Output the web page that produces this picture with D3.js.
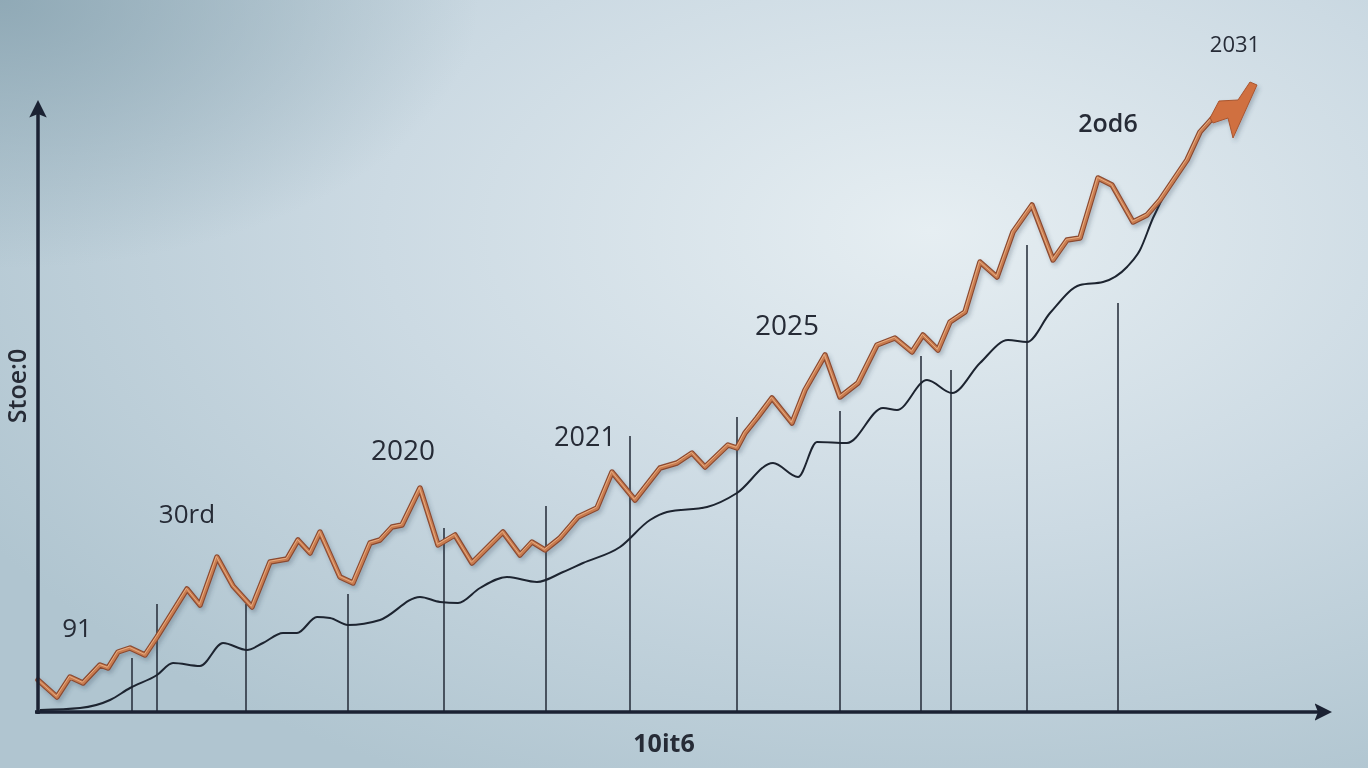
<!DOCTYPE html>
<html>
<head>
<meta charset="utf-8">
<script src="https://cdn.jsdelivr.net/npm/d3@7"></script>
<style>
  body { margin: 0; overflow: hidden; }
  text { font-family: "Open Sans", "Noto Sans", sans-serif; fill: #262b36; }
</style>
</head>
<body>
<div id="chart"></div>
<script>
// series values (x = time units, y = value units)
var orangeX = [0,19,32,45,62,70,80,92,107,119,149,162,179,195,214,232,249,260,272,282,302,315,332,342,354,364,382,400,417,434,465,482,494,507,522,540,559,574,597,622,639,654,667,690,699,707,719,734,754,767,787,802,820,839,857,874,885,900,912,927,942,959,975,994,1015,1029,1042,1060,1074,1095,1109,1122,1149,1162,1180];
var orangeY = [32,15,35,29,47,44,60,64,57,75,123,107,155,126,105,150,153,172,159,180,135,129,169,172,185,187,224,167,177,149,180,157,170,162,174,195,204,240,212,244,249,259,245,267,264,279,294,314,289,322,357,315,329,367,374,360,377,362,390,400,450,435,480,507,452,472,474,534,527,490,497,512,552,580,600];

var blackX = [2,42,72,92,119,135,162,185,209,225,245,259,279,292,310,342,382,402,420,442,469,499,525,545,582,612,629,669,699,735,760,779,809,845,859,889,914,942,970,989,1012,1042,1065,1089,1102,1115,1135,1149,1162];
var blackY = [2,4,12,24,37,49,46,69,62,69,79,79,95,94,87,92,115,110,109,124,135,130,140,149,165,192,200,205,219,249,235,270,269,304,302,332,319,349,372,370,399,427,430,445,462,494,532,552,580];

// vertical drop lines
var stemX = [94,119,208,310,406,508,592,699,802,883,913,989,1080];
var stemY = [54,108,108,118,184,206,276,295,301,356,342,467,409];

// annotation labels
var labels = ["91","30rd","2020","2021","2025","2od6","2031"];
var labelX = [39,149,365,547,749,1070,1197];
var labelY = [75,189,252,266,377,580,660];

var xTitle = "10it6", yTitle = "Stoe:0";

var W = 1368, H = 768;

var svg = d3.select("#chart").append("svg")
    .attr("width", W)
    .attr("height", H);

var defs = svg.append("defs");

var bg = defs.append("radialGradient").attr("id", "bg")
    .attr("cx", "0.68").attr("cy", "0.3").attr("r", "0.8");
bg.append("stop").attr("offset", "0").attr("stop-color", "#e6eef2");
bg.append("stop").attr("offset", "0.5").attr("stop-color", "#ccdae3");
bg.append("stop").attr("offset", "1").attr("stop-color", "#b0c5d0");

var corner = defs.append("radialGradient").attr("id", "corner")
    .attr("cx", "0").attr("cy", "0").attr("r", "0.35");
corner.append("stop").attr("offset", "0").attr("stop-color", "#8ca6b3").attr("stop-opacity", 0.9);
corner.append("stop").attr("offset", "1").attr("stop-color", "#8ca6b3").attr("stop-opacity", 0);

var shadow = defs.append("filter").attr("id", "shadow")
    .attr("x", "-5%").attr("y", "-5%").attr("width", "110%").attr("height", "115%");
shadow.append("feDropShadow")
    .attr("dx", 2).attr("dy", 3).attr("stdDeviation", 2)
    .attr("flood-color", "#3a4a5a").attr("flood-opacity", 0.3);

defs.append("marker").attr("id", "arrow")
    .attr("viewBox", "0 0 10 10").attr("refX", 2).attr("refY", 5)
    .attr("markerWidth", 5).attr("markerHeight", 5)
    .attr("orient", "auto")
  .append("path").attr("d", "M0,0L10,5L0,10L2,5Z").attr("fill", "#1b2233");

svg.append("rect").attr("width", W).attr("height", H).attr("fill", "url(#bg)");
svg.append("rect").attr("width", W).attr("height", H).attr("fill", "url(#corner)");

// scales
var x = d3.scaleLinear().domain([0, 1284]).range([38, 1322]);
var y = d3.scaleLinear().domain([0, 604]).range([712, 108]);

// drop lines
svg.selectAll(".stem")
  .data(stemX)
  .enter()
  .append("line")
    .attr("x1", function(d) { return x(d); })
    .attr("x2", function(d) { return x(d); })
    .attr("y1", y(0))
    .attr("y2", function(d, i) { return y(stemY[i]); })
    .attr("stroke", "#2c3440")
    .attr("stroke-width", 1.6);

// black series
var line = d3.line()
    .x(function(d) { return x(d[0]); })
    .y(function(d) { return y(d[1]); })
    .curve(d3.curveMonotoneX);

var blackData = blackX.map(function(d, i) { return [d, blackY[i]]; });
svg.append("path")
    .datum(blackData)
    .attr("d", line)
    .attr("fill", "none")
    .attr("stroke", "#1d2430")
    .attr("stroke-width", 2);

// orange series (copper wire look)
var orangeData = orangeX.map(function(d, i) { return [d, orangeY[i]]; });
var zig = d3.line()
    .x(function(d) { return x(d[0]); })
    .y(function(d) { return y(d[1]); });

var og = svg.append("g").attr("filter", "url(#shadow)");
og.append("path")
    .datum(orangeData)
    .attr("d", zig)
    .attr("fill", "none")
    .attr("stroke", "#8a4a30")
    .attr("stroke-width", 5.5)
    .attr("stroke-linejoin", "round")
    .attr("stroke-linecap", "round");
og.append("path")
    .datum(orangeData)
    .attr("d", zig)
    .attr("fill", "none")
    .attr("stroke", "#c97b50")
    .attr("stroke-width", 3.2)
    .attr("stroke-linejoin", "round");
og.append("path")
    .datum(orangeData)
    .attr("d", zig)
    .attr("fill", "none")
    .attr("stroke", "#e6ac80")
    .attr("stroke-width", 1)
    .attr("stroke-linejoin", "round")
    .attr("transform", "translate(-0.7,-0.7)");

// bolt arrowhead at the end of the orange series
var last = orangeData[orangeData.length - 1];
var ax = x(last[0]), ay = y(last[1]);
var bolt = [[-8,6],[1,-11],[20,-12],[32,-30],[39,-27],[15,26],[10,6],[-5,11]];
og.append("path")
    .attr("d", "M" + bolt.map(function(p) { return (ax + p[0]) + "," + (ay + p[1]); }).join("L") + "Z")
    .attr("fill", "#d0703f")
    .attr("stroke", "#a8552f")
    .attr("stroke-width", 1)
    .attr("stroke-linejoin", "round");

// axes
svg.append("g")
    .attr("transform", "translate(0," + y(0) + ")")
    .call(d3.axisBottom(x).tickValues([]).tickSizeOuter(0))
    .select(".domain")
    .attr("stroke", "#1b2233")
    .attr("stroke-width", 3.5)
    .attr("d", "M" + (x(0) - 3) + ",0H" + (x(1284) - 4))
    .attr("marker-end", "url(#arrow)");

svg.append("g")
    .attr("transform", "translate(" + x(0) + ",0)")
    .call(d3.axisLeft(y).tickValues([]).tickSizeOuter(0))
    .select(".domain")
    .attr("stroke", "#1b2233")
    .attr("stroke-width", 3.5)
    .attr("d", "M0," + (y(0) + 2) + "V" + (y(604) + 6))
    .attr("marker-end", "url(#arrow)");

// labels
var sizes = [26, 26, 28, 27, 28, 25, 22];
var weights = [400, 400, 400, 400, 400, 600, 400];
svg.selectAll(".lbl")
  .data(labels)
  .enter()
  .append("text")
    .attr("x", function(d, i) { return x(labelX[i]); })
    .attr("y", function(d, i) { return y(labelY[i]); })
    .attr("text-anchor", "middle")
    .style("font-size", function(d, i) { return sizes[i] + "px"; })
    .style("font-weight", function(d, i) { return weights[i]; })
    .text(function(d) { return d; });

svg.append("text")
    .attr("x", 664)
    .attr("y", 752)
    .attr("text-anchor", "middle")
    .style("font-size", "25px")
    .style("font-weight", 700)
    .text(xTitle);

svg.append("text")
    .attr("transform", "translate(26,386) rotate(-90)")
    .attr("text-anchor", "middle")
    .style("font-size", "25px")
    .style("font-weight", 600)
    .text(yTitle);
</script>
</body>
</html>
